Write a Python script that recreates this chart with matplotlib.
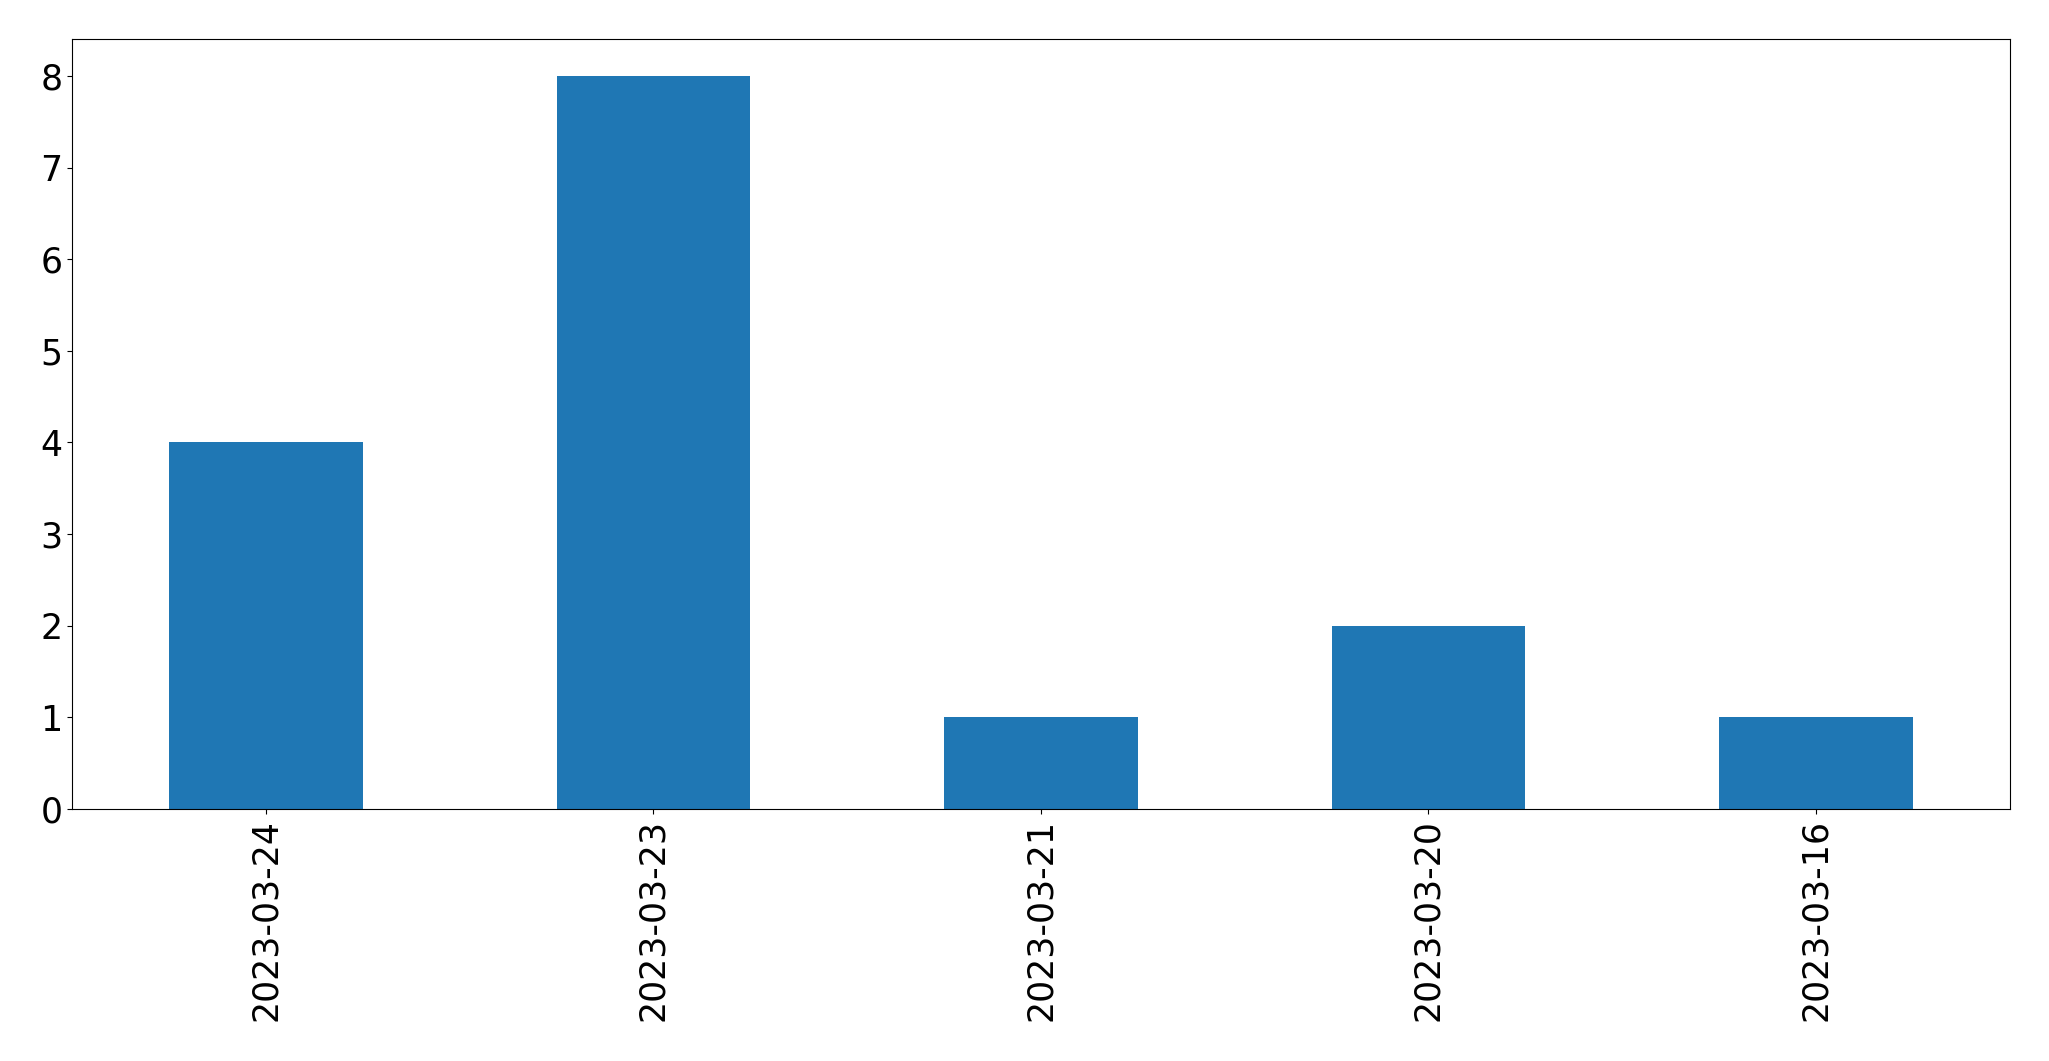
import matplotlib
matplotlib.use("Agg")
import matplotlib.pyplot as plt
import pandas as pd

# counts per date
dates = ["2023-03-24", "2023-03-23", "2023-03-21", "2023-03-20", "2023-03-16"]
counts = [4, 8, 1, 2, 1]

s = pd.Series(counts, index=dates)

fig = plt.figure(figsize=(20.49, 10.61), dpi=100)
ax = fig.add_axes([0.0352, 0.2375, 0.9456, 0.7255])
s.plot(kind="bar", ax=ax, color="#1f77b4", width=0.5)
ax.tick_params(axis="both", labelsize=25)
ax.set_xlabel("")

fig.savefig("out.png", dpi=100)
